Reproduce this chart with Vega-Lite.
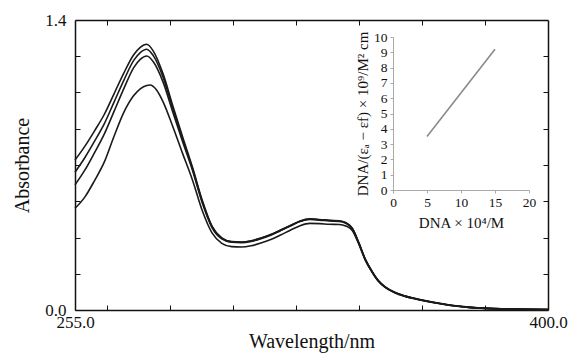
{
  "$schema": "https://vega.github.io/schema/vega-lite/v6.json",
  "autosize": {"type": "none"},
  "width": 473,
  "height": 290,
  "padding": {"left": 75, "top": 20, "right": 20, "bottom": 44},
  "background": "white",
  "config": {
    "font": "Liberation Serif",
    "view": {"stroke": null},
    "axis": {"grid": false, "labelFont": "Liberation Serif", "titleFont": "Liberation Serif", "titleFontWeight": "normal", "labelColor": "#111", "titleColor": "#111"}
  },
  "datasets": {
    "spectra": [
      {"s": 1, "w": 255, "a": 0.724}, {"s": 1, "w": 258, "a": 0.790}, {"s": 1, "w": 261, "a": 0.865}, {"s": 1, "w": 264, "a": 0.945}, {"s": 1, "w": 267, "a": 1.045}, {"s": 1, "w": 270, "a": 1.145}, {"s": 1, "w": 273, "a": 1.232}, {"s": 1, "w": 275, "a": 1.268}, {"s": 1, "w": 277, "a": 1.283}, {"s": 1, "w": 279, "a": 1.250}, {"s": 1, "w": 282, "a": 1.140}, {"s": 1, "w": 285, "a": 0.985}, {"s": 1, "w": 288, "a": 0.835}, {"s": 1, "w": 291, "a": 0.690}, {"s": 1, "w": 294, "a": 0.530}, {"s": 1, "w": 297, "a": 0.405}, {"s": 1, "w": 300, "a": 0.348}, {"s": 1, "w": 303, "a": 0.330}, {"s": 1, "w": 306, "a": 0.328}, {"s": 1, "w": 309, "a": 0.334}, {"s": 1, "w": 312, "a": 0.347}, {"s": 1, "w": 315, "a": 0.364}, {"s": 1, "w": 318, "a": 0.386}, {"s": 1, "w": 321, "a": 0.408}, {"s": 1, "w": 324, "a": 0.430}, {"s": 1, "w": 327, "a": 0.440}, {"s": 1, "w": 330, "a": 0.437}, {"s": 1, "w": 333, "a": 0.433}, {"s": 1, "w": 336, "a": 0.431}, {"s": 1, "w": 338, "a": 0.422}, {"s": 1, "w": 340, "a": 0.395}, {"s": 1, "w": 342, "a": 0.325}, {"s": 1, "w": 344, "a": 0.245}, {"s": 1, "w": 346, "a": 0.188}, {"s": 1, "w": 348, "a": 0.142}, {"s": 1, "w": 350, "a": 0.113}, {"s": 1, "w": 353, "a": 0.086}, {"s": 1, "w": 356, "a": 0.069}, {"s": 1, "w": 360, "a": 0.053}, {"s": 1, "w": 365, "a": 0.037}, {"s": 1, "w": 370, "a": 0.024}, {"s": 1, "w": 375, "a": 0.015}, {"s": 1, "w": 380, "a": 0.009}, {"s": 1, "w": 390, "a": 0.004}, {"s": 1, "w": 400, "a": 0.002},
      {"s": 2, "w": 255, "a": 0.665}, {"s": 2, "w": 258, "a": 0.735}, {"s": 2, "w": 261, "a": 0.815}, {"s": 2, "w": 264, "a": 0.900}, {"s": 2, "w": 267, "a": 1.005}, {"s": 2, "w": 270, "a": 1.110}, {"s": 2, "w": 273, "a": 1.205}, {"s": 2, "w": 275, "a": 1.243}, {"s": 2, "w": 277, "a": 1.259}, {"s": 2, "w": 279, "a": 1.228}, {"s": 2, "w": 282, "a": 1.124}, {"s": 2, "w": 285, "a": 0.972}, {"s": 2, "w": 288, "a": 0.825}, {"s": 2, "w": 291, "a": 0.683}, {"s": 2, "w": 294, "a": 0.525}, {"s": 2, "w": 297, "a": 0.402}, {"s": 2, "w": 300, "a": 0.346}, {"s": 2, "w": 303, "a": 0.329}, {"s": 2, "w": 306, "a": 0.327}, {"s": 2, "w": 309, "a": 0.333}, {"s": 2, "w": 312, "a": 0.346}, {"s": 2, "w": 315, "a": 0.363}, {"s": 2, "w": 318, "a": 0.385}, {"s": 2, "w": 321, "a": 0.407}, {"s": 2, "w": 324, "a": 0.429}, {"s": 2, "w": 327, "a": 0.439}, {"s": 2, "w": 330, "a": 0.436}, {"s": 2, "w": 333, "a": 0.432}, {"s": 2, "w": 336, "a": 0.430}, {"s": 2, "w": 338, "a": 0.421}, {"s": 2, "w": 340, "a": 0.394}, {"s": 2, "w": 342, "a": 0.324}, {"s": 2, "w": 344, "a": 0.244}, {"s": 2, "w": 346, "a": 0.187}, {"s": 2, "w": 348, "a": 0.141}, {"s": 2, "w": 350, "a": 0.112}, {"s": 2, "w": 353, "a": 0.085}, {"s": 2, "w": 356, "a": 0.068}, {"s": 2, "w": 360, "a": 0.052}, {"s": 2, "w": 365, "a": 0.036}, {"s": 2, "w": 370, "a": 0.023}, {"s": 2, "w": 375, "a": 0.014}, {"s": 2, "w": 380, "a": 0.009}, {"s": 2, "w": 390, "a": 0.004}, {"s": 2, "w": 400, "a": 0.002},
      {"s": 3, "w": 255, "a": 0.604}, {"s": 3, "w": 258, "a": 0.675}, {"s": 3, "w": 261, "a": 0.760}, {"s": 3, "w": 264, "a": 0.850}, {"s": 3, "w": 267, "a": 0.960}, {"s": 3, "w": 270, "a": 1.070}, {"s": 3, "w": 273, "a": 1.170}, {"s": 3, "w": 275, "a": 1.210}, {"s": 3, "w": 277, "a": 1.226}, {"s": 3, "w": 279, "a": 1.198}, {"s": 3, "w": 282, "a": 1.100}, {"s": 3, "w": 285, "a": 0.955}, {"s": 3, "w": 288, "a": 0.812}, {"s": 3, "w": 291, "a": 0.675}, {"s": 3, "w": 294, "a": 0.518}, {"s": 3, "w": 297, "a": 0.398}, {"s": 3, "w": 300, "a": 0.343}, {"s": 3, "w": 303, "a": 0.327}, {"s": 3, "w": 306, "a": 0.325}, {"s": 3, "w": 309, "a": 0.331}, {"s": 3, "w": 312, "a": 0.344}, {"s": 3, "w": 315, "a": 0.361}, {"s": 3, "w": 318, "a": 0.383}, {"s": 3, "w": 321, "a": 0.405}, {"s": 3, "w": 324, "a": 0.427}, {"s": 3, "w": 327, "a": 0.437}, {"s": 3, "w": 330, "a": 0.434}, {"s": 3, "w": 333, "a": 0.430}, {"s": 3, "w": 336, "a": 0.428}, {"s": 3, "w": 338, "a": 0.419}, {"s": 3, "w": 340, "a": 0.392}, {"s": 3, "w": 342, "a": 0.322}, {"s": 3, "w": 344, "a": 0.243}, {"s": 3, "w": 346, "a": 0.186}, {"s": 3, "w": 348, "a": 0.140}, {"s": 3, "w": 350, "a": 0.111}, {"s": 3, "w": 353, "a": 0.084}, {"s": 3, "w": 356, "a": 0.067}, {"s": 3, "w": 360, "a": 0.052}, {"s": 3, "w": 365, "a": 0.036}, {"s": 3, "w": 370, "a": 0.023}, {"s": 3, "w": 375, "a": 0.014}, {"s": 3, "w": 380, "a": 0.009}, {"s": 3, "w": 390, "a": 0.004}, {"s": 3, "w": 400, "a": 0.002},
      {"s": 4, "w": 255, "a": 0.491}, {"s": 4, "w": 258, "a": 0.545}, {"s": 4, "w": 261, "a": 0.625}, {"s": 4, "w": 264, "a": 0.715}, {"s": 4, "w": 267, "a": 0.840}, {"s": 4, "w": 270, "a": 0.955}, {"s": 4, "w": 273, "a": 1.035}, {"s": 4, "w": 275, "a": 1.068}, {"s": 4, "w": 277, "a": 1.084}, {"s": 4, "w": 278, "a": 1.086}, {"s": 4, "w": 280, "a": 1.062}, {"s": 4, "w": 282, "a": 1.005}, {"s": 4, "w": 285, "a": 0.885}, {"s": 4, "w": 288, "a": 0.755}, {"s": 4, "w": 291, "a": 0.628}, {"s": 4, "w": 294, "a": 0.480}, {"s": 4, "w": 297, "a": 0.372}, {"s": 4, "w": 300, "a": 0.322}, {"s": 4, "w": 303, "a": 0.306}, {"s": 4, "w": 306, "a": 0.304}, {"s": 4, "w": 309, "a": 0.310}, {"s": 4, "w": 312, "a": 0.323}, {"s": 4, "w": 315, "a": 0.340}, {"s": 4, "w": 318, "a": 0.362}, {"s": 4, "w": 321, "a": 0.385}, {"s": 4, "w": 324, "a": 0.407}, {"s": 4, "w": 327, "a": 0.418}, {"s": 4, "w": 330, "a": 0.417}, {"s": 4, "w": 333, "a": 0.414}, {"s": 4, "w": 336, "a": 0.413}, {"s": 4, "w": 338, "a": 0.406}, {"s": 4, "w": 340, "a": 0.384}, {"s": 4, "w": 342, "a": 0.318}, {"s": 4, "w": 344, "a": 0.240}, {"s": 4, "w": 346, "a": 0.184}, {"s": 4, "w": 348, "a": 0.139}, {"s": 4, "w": 350, "a": 0.110}, {"s": 4, "w": 353, "a": 0.083}, {"s": 4, "w": 356, "a": 0.066}, {"s": 4, "w": 360, "a": 0.051}, {"s": 4, "w": 365, "a": 0.035}, {"s": 4, "w": 370, "a": 0.022}, {"s": 4, "w": 375, "a": 0.014}, {"s": 4, "w": 380, "a": 0.008}, {"s": 4, "w": 390, "a": 0.004}, {"s": 4, "w": 400, "a": 0.002}
    ],
    "inset": [
      {"dna": 5, "ratio": 3.5},
      {"dna": 15, "ratio": 9.2}
    ]
  },
  "layer": [
    {
      "data": {"name": "spectra"},
      "layer": [
        {
          "mark": {"type": "line", "color": "#1a1a1a", "strokeWidth": 1.6, "interpolate": "monotone"},
          "encoding": {
            "x": {
              "field": "w", "type": "quantitative",
              "scale": {"domain": [255, 400], "nice": false, "zero": false},
              "axis": {
                "orient": "bottom",
                "title": "Wavelength/nm", "titleFontSize": 20, "titlePadding": 1,
                "values": [255, 264.67, 284, 303.33, 322.67, 342, 361.33, 380.67, 400],
                "labelExpr": "datum.value == 255 || datum.value == 400 ? format(datum.value, '.1f') : ''",
                "labelFontSize": 17, "labelFlush": false, "labelOverlap": false, "labelPadding": 9,
                "tickSize": -5, "tickColor": "#111", "domainColor": "#111", "domainWidth": 1.5
              }
            },
            "y": {
              "field": "a", "type": "quantitative",
              "scale": {"domain": [0, 1.4], "nice": false},
              "axis": {
                "orient": "left",
                "title": "Absorbance", "titleFontSize": 20, "titlePadding": 12,
                "values": [0, 0.175, 0.35, 0.525, 0.7, 0.875, 1.05, 1.225, 1.4],
                "labelExpr": "datum.value == 0 || datum.value == 1.4 ? format(datum.value, '.1f') : ''",
                "labelFontSize": 17, "labelFlush": false, "labelOverlap": false, "labelPadding": 14,
                "tickSize": -5, "tickColor": "#111", "domainColor": "#111", "domainWidth": 1.5
              }
            },
            "detail": {"field": "s", "type": "nominal"}
          }
        },
        {
          "mark": {"type": "line", "opacity": 0},
          "encoding": {
            "x": {
              "field": "w", "type": "quantitative",
              "axis": {
                "orient": "top", "title": null, "labels": false,
                "values": [264.67, 284, 303.33, 322.67, 342, 361.33, 380.67],
                "tickSize": -5, "tickColor": "#111", "domainColor": "#111", "domainWidth": 1.5
              }
            },
            "y": {
              "field": "a", "type": "quantitative",
              "axis": {
                "orient": "right", "title": null, "labels": false,
                "values": [0.175, 0.35, 0.525, 0.7, 0.875, 1.05, 1.225],
                "tickSize": -5, "tickColor": "#111", "domainColor": "#111", "domainWidth": 1.5
              }
            },
            "detail": {"field": "s", "type": "nominal"}
          }
        }
      ],
      "resolve": {"axis": {"x": "independent", "y": "independent"}}
    },
    {
      "data": {"name": "inset"},
      "mark": {"type": "line", "color": "#8a8a8a", "strokeWidth": 1.6},
      "encoding": {
        "x": {
          "field": "dna", "type": "quantitative",
          "scale": {"domain": [0, 20], "nice": false, "range": [318, 454]},
          "axis": {
            "orient": "bottom", "offset": -120,
            "title": "DNA × 10⁴/M", "titleFontSize": 15, "titlePadding": 7,
            "values": [0, 5, 10, 15, 20], "labelFontSize": 13.5, "labelFlush": false, "labelPadding": 2,
            "tickSize": 3, "tickColor": "#aaa", "domainColor": "#aaa"
          }
        },
        "y": {
          "field": "ratio", "type": "quantitative",
          "scale": {"domain": [0, 10], "nice": false, "range": [170, 17]},
          "axis": {
            "orient": "left", "offset": -318,
            "title": "DNA/(εₐ − εf) × 10⁹/M² cm", "titleFontSize": 15, "titlePadding": 3,
            "values": [0, 1, 2, 3, 4, 5, 6, 7, 8, 9, 10], "labelFontSize": 13.5, "labelFlush": false, "labelPadding": 3,
            "tickSize": 3, "tickColor": "#aaa", "domainColor": "#aaa"
          }
        }
      }
    }
  ],
  "resolve": {"scale": {"x": "independent", "y": "independent"}, "axis": {"x": "independent", "y": "independent"}}
}
